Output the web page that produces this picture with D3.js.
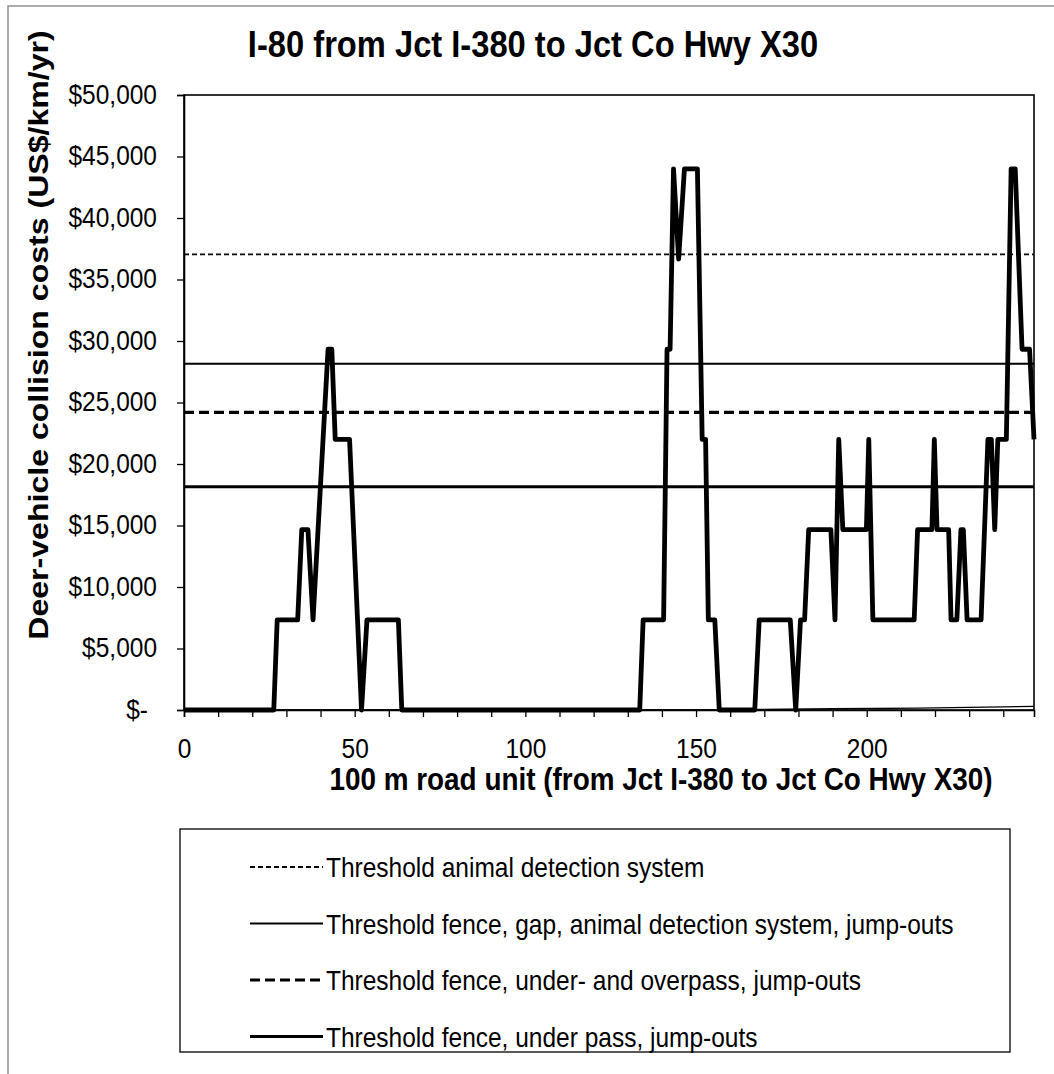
<!DOCTYPE html>
<html>
<head>
<meta charset="utf-8">
<script src="https://cdn.jsdelivr.net/npm/d3@7.9.0/dist/d3.min.js"></script>
<style>
  body { margin: 0; background: #fff; }
  svg { display: block; }
  text { font-family: "Liberation Sans", Arial, sans-serif; fill: #000; }
</style>
</head>
<body>
<svg id="chart" width="1054" height="1074"></svg>
<script>
// collision cost along the road, vertices (road unit, US$/km/yr)
const costUnits = [0, 26.3, 27.3, 33.3, 34.5, 36.3, 37.8, 42.2, 43.3, 44.3, 48.5, 52, 53.6, 62.8, 63.8,
  133.5, 134.5, 140.5, 141.5, 142.4, 143.4, 144.9, 146.6, 150.4, 151.8, 152.8, 153.6, 155.5, 156.8,
  167.2, 168.5, 177.6, 179.2, 180.6, 181.8, 183, 189.5, 190.7, 191.8, 193, 199.9, 200.6, 201.8,
  213.9, 214.9, 219.1, 219.8, 220.6, 224, 224.7, 226.4, 227.6, 228.3, 229.4, 233.5, 235.5, 236.5,
  237.5, 238.4, 240.9, 242.3, 243.5, 245.5, 247.7, 249];
const costValues = [0, 0, 7330, 7330, 14660, 14660, 7330, 29330, 29330, 22000, 22000, 0, 7330, 7330, 0,
  0, 7330, 7330, 29330, 29330, 44000, 36660, 44000, 44000, 22000, 22000, 7330, 7330, 0,
  0, 7330, 7330, 0, 7330, 7330, 14660, 14660, 7330, 22000, 14660, 14660, 22000, 7330,
  7330, 14660, 14660, 22000, 14660, 14660, 7330, 7330, 14660, 14660, 7330, 7330, 22000, 22000,
  14660, 22000, 22000, 44000, 44000, 29330, 29330, 22000];

// faint near-zero series along the axis
const lowUnits = [0, 150, 190, 215, 240, 249];
const lowValues = [0, 0, 100, 150, 250, 300];

const thresholdLabels = [
  'Threshold animal detection system',
  'Threshold fence, gap, animal detection system, jump-outs',
  'Threshold fence, under- and overpass, jump-outs',
  'Threshold fence, under pass, jump-outs'
];
const thresholdValues = [37050, 28150, 24200, 18150];
const thresholdStyles = [
  { width: 1.8, dash: '5,3' },
  { width: 2, dash: null },
  { width: 3.2, dash: '10,5' },
  { width: 3.2, dash: null }
];

const yTicks = d3.range(0, 50001, 5000);
const xTicks = d3.range(0, 250, 10);

const svg = d3.select('#chart');
const font = 'Liberation Sans, Arial, sans-serif';
const stretch = 1.15;

const x = d3.scaleLinear().domain([0, 249]).range([184, 1034]);
const y = d3.scaleLinear().domain([0, 50000]).range([710, 95]);

// outer chart frame (top and left only show)
svg.append('rect')
  .attr('x', 8).attr('y', 6).attr('width', 1100).attr('height', 1100)
  .attr('fill', 'none').attr('stroke', '#808080').attr('stroke-width', 1.3);

// plot frame
svg.append('rect')
  .attr('x', x(0)).attr('y', y(50000))
  .attr('width', x(249) - x(0)).attr('height', y(0) - y(50000))
  .attr('fill', 'none').attr('stroke', '#000').attr('stroke-width', 1.6);

// y axis
const yAxis = svg.append('g')
  .attr('transform', `translate(${x(0)},0)`)
  .call(d3.axisLeft(y).tickValues(yTicks).tickSize(7)
    .tickFormat(d => d === 0 ? '$-' : '$' + d3.format(',')(d)));
yAxis.select('.domain').attr('stroke-width', 1.6);
yAxis.selectAll('.tick line').attr('stroke-width', 1.3);
yAxis.selectAll('text')
  .attr('x', null).attr('dy', null)
  .attr('transform', d => `translate(${d === 0 ? -36 : -27},8) scale(1,${stretch})`)
  .style('font-size', '24.5px').style('font-family', font);

// x axis
const xAxis = svg.append('g')
  .attr('transform', `translate(0,${y(0)})`)
  .call(d3.axisBottom(x).tickValues(xTicks).tickSize(7)
    .tickFormat(d => d % 50 === 0 ? d : ''));
xAxis.select('.domain').attr('stroke-width', 1.6);
xAxis.selectAll('.tick line').attr('stroke-width', 1.3);
xAxis.selectAll('text')
  .attr('y', null).attr('dy', null)
  .attr('transform', `translate(0,48) scale(1,${stretch})`)
  .style('font-size', '24.5px').style('font-family', font);

// thresholds
svg.selectAll('line.threshold')
  .data(thresholdValues)
  .enter()
  .append('line')
  .attr('class', 'threshold')
  .attr('x1', x(0)).attr('x2', x(249))
  .attr('y1', d => y(d)).attr('y2', d => y(d))
  .attr('stroke', '#000')
  .attr('stroke-width', (d, i) => thresholdStyles[i].width)
  .attr('stroke-dasharray', (d, i) => thresholdStyles[i].dash);

const line = d3.line().x(d => x(d[0])).y(d => y(d[1]));

svg.append('path')
  .datum(d3.zip(lowUnits, lowValues))
  .attr('d', line)
  .attr('fill', 'none').attr('stroke', '#000').attr('stroke-width', 1.3);

svg.append('path')
  .datum(d3.zip(costUnits, costValues))
  .attr('d', line)
  .attr('fill', 'none').attr('stroke', '#000')
  .attr('stroke-width', 4.8).attr('stroke-linejoin', 'round');

// titles
svg.append('text')
  .attr('transform', `translate(533,57) scale(1,${stretch})`)
  .attr('text-anchor', 'middle')
  .style('font-size', '32.7px').style('font-weight', 'bold')
  .text('I-80 from Jct I-380 to Jct Co Hwy X30');

svg.append('text')
  .attr('transform', `translate(661,790) scale(1,${stretch})`)
  .attr('text-anchor', 'middle')
  .style('font-size', '27.9px').style('font-weight', 'bold')
  .text('100 m road unit (from Jct I-380 to Jct Co Hwy X30)');

svg.append('text')
  .attr('transform', `translate(48,335) scale(1,${stretch}) rotate(-90)`)
  .attr('text-anchor', 'middle')
  .style('font-size', '27.9px').style('font-weight', 'bold')
  .text('Deer-vehicle collision costs (US$/km/yr)');

// legend
const legend = svg.append('g');
legend.append('rect')
  .attr('x', 180).attr('y', 829).attr('width', 830).attr('height', 223)
  .attr('fill', 'none').attr('stroke', '#000').attr('stroke-width', 1.3);

const rows = legend.selectAll('g.row')
  .data(thresholdLabels)
  .enter()
  .append('g')
  .attr('class', 'row')
  .attr('transform', (d, i) => `translate(0,${867 + i * 56.5})`);

rows.append('line')
  .attr('x1', 250).attr('x2', 323).attr('y1', 0).attr('y2', 0)
  .attr('stroke', '#000')
  .attr('stroke-width', (d, i) => thresholdStyles[i].width)
  .attr('stroke-dasharray', (d, i) => thresholdStyles[i].dash);

rows.append('text')
  .attr('transform', `translate(326,10) scale(1,${stretch})`)
  .style('font-size', '24.5px')
  .text(d => d);
</script>
</body>
</html>
